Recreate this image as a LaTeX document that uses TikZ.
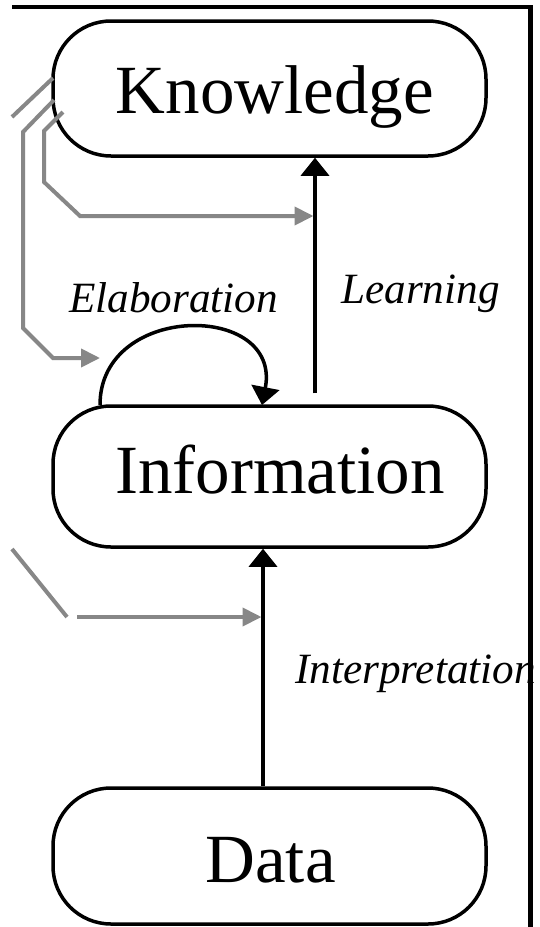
\documentclass[tikz,border=0pt]{standalone}
\usepackage{fontspec}
\setmainfont{Liberation Serif}
\usetikzlibrary{arrows.meta}
\definecolor{linegray}{RGB}{135,135,135}
\begin{document}
\begin{tikzpicture}[x=1pt,y=-1pt,
  box/.style={draw=black, line width=3.5pt, rounded corners=58pt, minimum width=433pt, minimum height=135pt, inner sep=0pt},
  big/.style={font=\fontsize{69}{71}\selectfont, anchor=base, inner sep=0pt},
  lbl/.style={font=\fontsize{43.2}{45}\selectfont\itshape, anchor=base west, inner sep=0pt},
  blk/.style={line width=3.5pt, -{Triangle[width=28pt,length=18pt]}},
  gry/.style={draw=linegray, line width=4pt, -{Triangle[width=18pt,length=19pt]}},
  gryline/.style={draw=linegray, line width=4pt},
  frame/.style={draw=black, line width=4.5pt},
]
\useasboundingbox (0,0) rectangle (539,927);
\fill[white] (0,0) rectangle (539,927);

% boxes
\node[box] (kbox) at (269.5,88.5) {};
\node[box, minimum height=141pt] (ibox) at (269.5,476.5) {};
\node[box, minimum height=136pt] (dbox) at (269.5,856) {};

% box texts
\node[big] (ktext) at (275,113) {Knowledge};
\node[big] (itext) at (280,493) {Information};
\node[big] (dtext) at (270.5,882) {Data};

% labels
\node[lbl] (elab) at (69,312) {Elaboration};
\node[lbl] (learn) at (341,303) {Learning};
\node[lbl] (interp) at (295,683) {Interpretation};

% main arrows
\coordinate (lx) at (315,0);
\coordinate (ix) at (263,0);
\draw[blk, shorten <=11pt] (ibox.north -| lx) -- (kbox.south -| lx);
\draw[blk] (dbox.north -| ix) -- (ibox.south -| ix);

% elaboration loop
\coordinate (e1) at (100,405);
\coordinate (e2) at (262,405);
\draw[blk] (e1) .. controls (100,302) and (282,302) .. (e2);

% gray feedback lines
\coordinate (a0) at (12,117);
\coordinate (a1) at (53,78);
\draw[gryline] (a0) -- (a1);

\coordinate (b0) at (54,100);
\coordinate (b1) at (100,358);
\draw[gry] (b0) -- (23,132) -- (23,328) -- (53,358) -- (b1);

\coordinate (c0) at (63,112);
\coordinate (c1) at (313.5,216);
\draw[gry] (c0) -- (44,131) -- (44,182) -- (80,216) -- (c1);

\coordinate (d0) at (12,549);
\coordinate (d1) at (67,617);
\draw[gryline] (d0) -- (d1);
\coordinate (d2) at (77,617);
\coordinate (d3) at (261.5,617);
\draw[gry] (d2) -- (d3);

% frame
\draw[frame] (12,7) -- (533,7);
\draw[frame, line width=5pt] (530.5,5) -- (530.5,927);
\end{tikzpicture}
\end{document}
